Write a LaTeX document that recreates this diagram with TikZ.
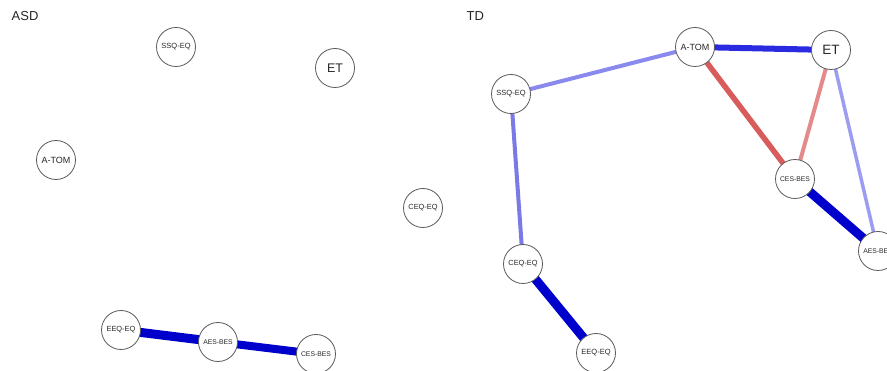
\documentclass[tikz,border=0pt]{standalone}
\usepackage{fontspec}
\setmainfont{Liberation Sans}
\usetikzlibrary{backgrounds}
\definecolor{dblue}{RGB}{0,0,204}
\definecolor{mblue}{RGB}{42,42,224}
\definecolor{lblueA}{RGB}{138,138,238}
\definecolor{lblueB}{RGB}{122,122,230}
\definecolor{lblueC}{RGB}{156,156,240}
\definecolor{redA}{RGB}{216,92,92}
\definecolor{redB}{RGB}{228,138,138}
\definecolor{nodeline}{RGB}{90,90,90}
\definecolor{nodetext}{RGB}{40,40,40}
\begin{document}
\begin{tikzpicture}[x=1pt,y=-1pt,
  nd/.style={circle,draw=nodeline,line width=0.8pt,fill=white,minimum size=39pt,inner sep=0pt,text=nodetext},
  ttl/.style={anchor=west,font=\fontsize{13}{13}\selectfont,text=black!85,inner sep=0pt},
  edge/.style={line cap=butt}]
\useasboundingbox (0,0) rectangle (887,371);
% titles
\node[ttl] (tasd) at (11.5,16.5) {ASD};
\node[ttl] (ttd) at (466.5,16.5) {TD};
% ASD nodes
\node[nd,font=\fontsize{7.5}{7.5}\selectfont] (a-ssq) at (176,47) {SSQ-EQ};
\node[nd,font=\fontsize{12.5}{12.5}\selectfont] (a-et) at (335,68) {ET};
\node[nd,font=\fontsize{9}{9}\selectfont] (a-atom) at (56,160) {A-TOM};
\node[nd,font=\fontsize{7.4}{7.4}\selectfont] (a-ceq) at (423,208) {CEQ-EQ};
\node[nd,font=\fontsize{7.4}{7.4}\selectfont] (a-eeq) at (121,330) {EEQ-EQ};
\node[nd,font=\fontsize{6.8}{6.8}\selectfont] (a-aes) at (218,342) {AES-BES};
\node[nd,font=\fontsize{6.8}{6.8}\selectfont] (a-ces) at (316,354) {CES-BES};
% TD nodes
\node[nd,font=\fontsize{9}{9}\selectfont] (t-atom) at (695,47) {A-TOM};
\node[nd,font=\fontsize{13.5}{13.5}\selectfont] (t-et) at (831,50) {ET};
\node[nd,font=\fontsize{7.5}{7.5}\selectfont] (t-ssq) at (511,94) {SSQ-EQ};
\node[nd,font=\fontsize{6.8}{6.8}\selectfont] (t-ces) at (795,179) {CES-BES};
\node[nd,font=\fontsize{6.8}{6.8}\selectfont] (t-aes) at (878,251) {AES-BES};
\node[nd,font=\fontsize{7.4}{7.4}\selectfont] (t-ceq) at (523,264) {CEQ-EQ};
\node[nd,font=\fontsize{7.5}{7.5}\selectfont] (t-eeq) at (596,353) {EEQ-EQ};
\begin{pgfonlayer}{background}
% ASD edges
\draw[edge,dblue,line width=9pt] (a-eeq.center) -- (a-aes.center);
\draw[edge,dblue,line width=8pt] (a-aes.center) -- (a-ces.center);
% TD edges
\draw[edge,mblue,line width=6pt] (t-atom.center) -- (t-et.center);
\draw[edge,lblueA,line width=4pt] (t-atom.center) -- (t-ssq.center);
\draw[edge,redA,line width=5.5pt] (t-atom.center) -- (t-ces.center);
\draw[edge,redB,line width=4pt] (t-et.center) -- (t-ces.center);
\draw[edge,lblueC,line width=3.5pt] (t-et.center) -- (t-aes.center);
\draw[edge,dblue,line width=9pt] (t-ces.center) -- (t-aes.center);
\draw[edge,lblueB,line width=4pt] (t-ssq.center) -- (t-ceq.center);
\draw[edge,dblue,line width=9pt] (t-ceq.center) -- (t-eeq.center);
\end{pgfonlayer}
\end{tikzpicture}
\end{document}
